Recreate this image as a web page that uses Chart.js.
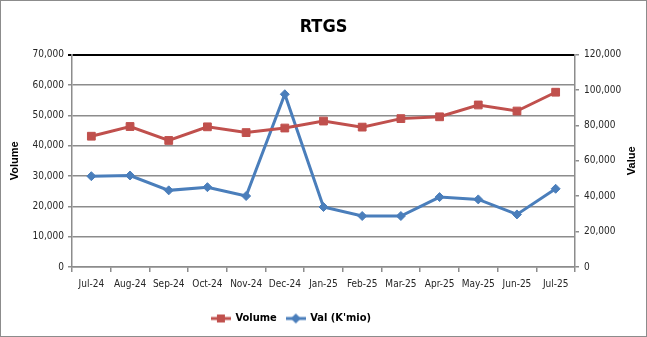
<!DOCTYPE html>
<html>
<head>
<meta charset="utf-8">
<script src="https://cdn.jsdelivr.net/npm/chart.js@4.4.1/dist/chart.umd.min.js"></script>
<style>
  html, body { margin: 0; padding: 0; background: #fff; }
  #wrap { width: 645px; height: 335px; border: 1px solid #8c8c8c; position: relative; }
</style>
</head>
<body>
<div id="wrap"><canvas id="rtgs"></canvas></div>
<script>
const months = ['Jul-24', 'Aug-24', 'Sep-24', 'Oct-24', 'Nov-24', 'Dec-24',
  'Jan-25', 'Feb-25', 'Mar-25', 'Apr-25', 'May-25', 'Jun-25', 'Jul-25'];
const volume = [43100, 46300, 41700, 46200, 44300, 45800, 48100, 46100, 48900, 49500, 53400, 51400, 57600];
const valueKmio = [51300, 51700, 43300, 45100, 40100, 97600, 33900, 28800, 28800, 39500, 38200, 29700, 44200];
const volumeAxis = [0, 70000, 10000];   // min, max, step
const valueAxis = [0, 120000, 20000];

const RED = '#c0504d';
const BLUE = '#4a7ebb';
const GRID = '#8c8c8c';
const NARROW = '"Liberation Sans Narrow", "DejaVu Sans Condensed", "Arial Narrow", sans-serif';
const AXIS_TITLE_FONT = 'bold 11px "Liberation Sans", Arial, sans-serif';
const fmt = v => Number(v).toLocaleString('en-US');

// little line+marker images for the legend, like excel draws them
function swatch(color, style) {
  const c = document.createElement('canvas');
  c.width = 20; c.height = 12;
  const g = c.getContext('2d');
  g.strokeStyle = color; g.fillStyle = color; g.lineWidth = 3;
  g.beginPath(); g.moveTo(0, 6); g.lineTo(20, 6); g.stroke();
  if (style === 'rect') {
    g.fillRect(6, 2, 8, 8);
  } else {
    g.beginPath(); g.moveTo(10, 1); g.lineTo(15, 6); g.lineTo(10, 11); g.lineTo(5, 6); g.closePath(); g.fill();
  }
  return c;
}
const swatches = [swatch(RED, 'rect'), swatch(BLUE, 'diamond')];

const rightTitle = {
  id: 'rightTitle',
  afterLayout(chart) {
    // excel legend sits a bit left of centre
    chart.legend.left -= 32;
    chart.legend.right -= 32;
  },
  afterDraw(chart) {
    const {ctx, chartArea, scales} = chart;
    ctx.save();
    ctx.translate(scales.y1.right - 14, (chartArea.top + chartArea.bottom) / 2);
    ctx.rotate(-Math.PI / 2);
    ctx.font = AXIS_TITLE_FONT;
    ctx.fillStyle = '#000';
    ctx.textAlign = 'center';
    ctx.textBaseline = 'middle';
    ctx.fillText('Value', 0, 0);
    ctx.restore();
  }
};

new Chart(document.getElementById('rtgs'), {
  type: 'line',
  data: {
    labels: months,
    datasets: [{
      label: 'Volume',
      data: volume,
      yAxisID: 'y',
      borderColor: RED,
      backgroundColor: RED,
      borderWidth: 3,
      pointStyle: 'rect',
      pointRadius: 5.5,
      pointHoverRadius: 5.5,
      pointBorderWidth: 1,
      tension: 0
    }, {
      label: "Val (K'mio)",
      data: valueKmio,
      yAxisID: 'y1',
      borderColor: BLUE,
      backgroundColor: BLUE,
      borderWidth: 3,
      pointStyle: 'rectRot',
      pointRadius: 4.5,
      pointHoverRadius: 4.5,
      pointBorderWidth: 1,
      tension: 0
    }]
  },
  options: {
    responsive: true,
    maintainAspectRatio: false,
    animation: false,
    layout: { padding: { left: 0, right: 0, top: 0, bottom: 2 } },
    plugins: {
      title: {
        display: true,
        text: 'RTGS',
        color: '#000',
        font: { family: NARROW, size: 18, weight: 'bold' },
        padding: { top: 16, bottom: 16 }
      },
      legend: {
        position: 'bottom',
        labels: {
          usePointStyle: true,
          pointStyleWidth: 18,
          boxHeight: 12,
          padding: 10,
          color: '#000',
          font: { family: NARROW, size: 11, weight: 'bold' },
          generateLabels(chart) {
            const items = Chart.defaults.plugins.legend.labels.generateLabels(chart);
            items.forEach((it, i) => { it.pointStyle = swatches[i]; });
            return items;
          }
        }
      },
      tooltip: { enabled: false }
    },
    scales: {
      x: {
        offset: true,
        afterFit: s => { s.height = 36; },
        grid: { drawOnChartArea: false, offset: true, color: GRID, lineWidth: 1.5, tickLength: 5 },
        border: { color: GRID, width: 1.5 },
        ticks: { autoSkip: false, color: '#262626', padding: 6, maxRotation: 0, font: { family: NARROW, size: 10 } }
      },
      y: {
        position: 'left',
        min: volumeAxis[0], max: volumeAxis[1],
        afterFit: s => { s.width = 71; },
        ticks: { stepSize: volumeAxis[2], color: '#262626', padding: 4, font: { family: NARROW, size: 10 }, callback: fmt },
        grid: {
          color: c => c.tick && c.tick.value === volumeAxis[1] ? '#000' : GRID,
          lineWidth: c => c.tick && c.tick.value === volumeAxis[1] ? 2 : 1.5,
          tickLength: 4
        },
        border: { color: GRID, width: 1.5 },
        title: {
          display: true,
          text: 'Volume',
          color: '#000',
          font: { family: '"Liberation Sans", Arial, sans-serif', size: 11, weight: 'bold' },
          padding: { top: 7.5, bottom: 0 }
        }
      },
      y1: {
        position: 'right',
        min: valueAxis[0], max: valueAxis[1],
        afterFit: s => { s.width = 71; },
        ticks: { stepSize: valueAxis[2], color: '#262626', padding: 5, font: { family: NARROW, size: 10 }, callback: fmt },
        grid: { drawOnChartArea: false, color: GRID, lineWidth: 1.5, tickLength: 4 },
        border: { color: GRID, width: 1.5 }
      }
    }
  },
  plugins: [rightTitle]
});
</script>
</body>
</html>
